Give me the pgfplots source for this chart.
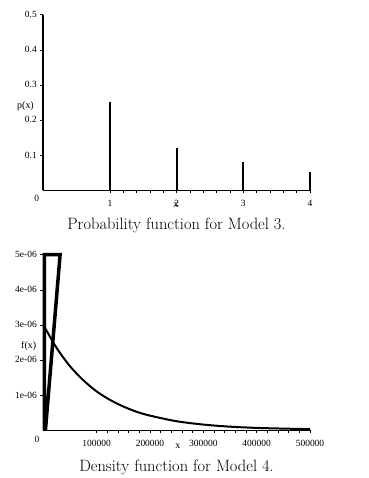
\documentclass[border=0pt]{standalone}
\usepackage{pgfplots}
\pgfplotsset{compat=1.18}
\usepackage{fontspec}
\newfontfamily\tickfont{Liberation Serif}
\pgfplotsset{
  maple/.style={
    scale only axis, width=266.7bp, height=175.3bp,
    axis lines=left, axis line style={-, line width=0.7bp},
    tick align=outside, major tick length=3bp, minor tick length=2.5bp,
    every tick/.style={black, line width=0.5bp},
    /pgf/number format/assume math mode=true,
    ticklabel style={font=\tickfont\fontsize{9.5}{11}\selectfont, text=black},
    xticklabel style={yshift=-4bp},
    label style={font=\tickfont\fontsize{10}{12}\selectfont},
    scaled ticks=false,
    clip=false,
    anchor=south west,
  }
}
\begin{document}
\begin{tikzpicture}
\useasboundingbox (0,0) rectangle (369bp,-478bp);
% ---------- top: probability function ----------
\begin{axis}[maple, at={(43.3bp,-190bp)},
  xmin=0, xmax=4, ymin=0, ymax=0.5,
  xtick={1,2,3,4}, xticklabels={1,2,3,4},
  minor x tick num=4,
  ytick={0.1,0.2,0.3,0.4,0.5}, yticklabels={0.1,0.2,0.3,0.4,0.5},
  xlabel={x}, xlabel style={at={(axis description cs:0.4976,-0.088)}, anchor=center},
  ylabel={p(x)}, ylabel style={rotate=-90, at={(axis description cs:-0.0667,0.479)}, anchor=center},
]
\addplot[ycomb, black, line width=2bp, mark=none] coordinates {
  (0,0.5) (1,0.25) (2,0.12) (3,0.08) (4,0.05)
};
\node[font=\tickfont\fontsize{9.5}{11}\selectfont] at (axis description cs:-0.0247,-0.0456) {0};
\end{axis}
\node[font=\fontsize{16.5}{19}\selectfont] at (176.5bp,-225bp) {Probability function for Model 3.};
% ---------- bottom: density function ----------
\begin{axis}[maple, at={(43.3bp,-430bp)},
  xmin=0, xmax=500000, ymin=0, ymax=5e-6,
  xtick={100000,200000,300000,400000,500000},
  xticklabels={100000,200000,300000,400000,500000},
  minor x tick num=4,
  ytick={1e-6,2e-6,3e-6,4e-6,5e-6},
  yticklabels={1e-06,2e-06,3e-06,4e-06,5e-06},
  xlabel={x}, xlabel style={at={(axis description cs:0.505,-0.095)}, anchor=center},
  ylabel={f(x)}, ylabel style={rotate=-90, at={(axis description cs:-0.0547,0.479)}, anchor=center},
]
\addplot[black, line width=3.5bp, mark=none] coordinates {
  (2000,0) (2000,5e-6) (31500,5e-6) (4000,0)
};
\addplot[black, line width=2bp, mark=none, smooth] coordinates {
  (0,3.0e-6) (25000,2.34e-6) (50000,1.82e-6) (75000,1.42e-6) (100000,1.10e-6)
  (125000,0.86e-6) (150000,0.67e-6) (175000,0.52e-6) (200000,0.41e-6)
  (250000,0.25e-6) (300000,0.155e-6) (350000,0.095e-6) (400000,0.06e-6)
  (450000,0.04e-6) (500000,0.025e-6)
};
\node[font=\tickfont\fontsize{9.5}{11}\selectfont] at (axis description cs:-0.0236,-0.0513) {0};
\end{axis}
\node[font=\fontsize{16.5}{19}\selectfont] at (176.5bp,-467bp) {Density function for Model 4.};
\end{tikzpicture}
\end{document}
